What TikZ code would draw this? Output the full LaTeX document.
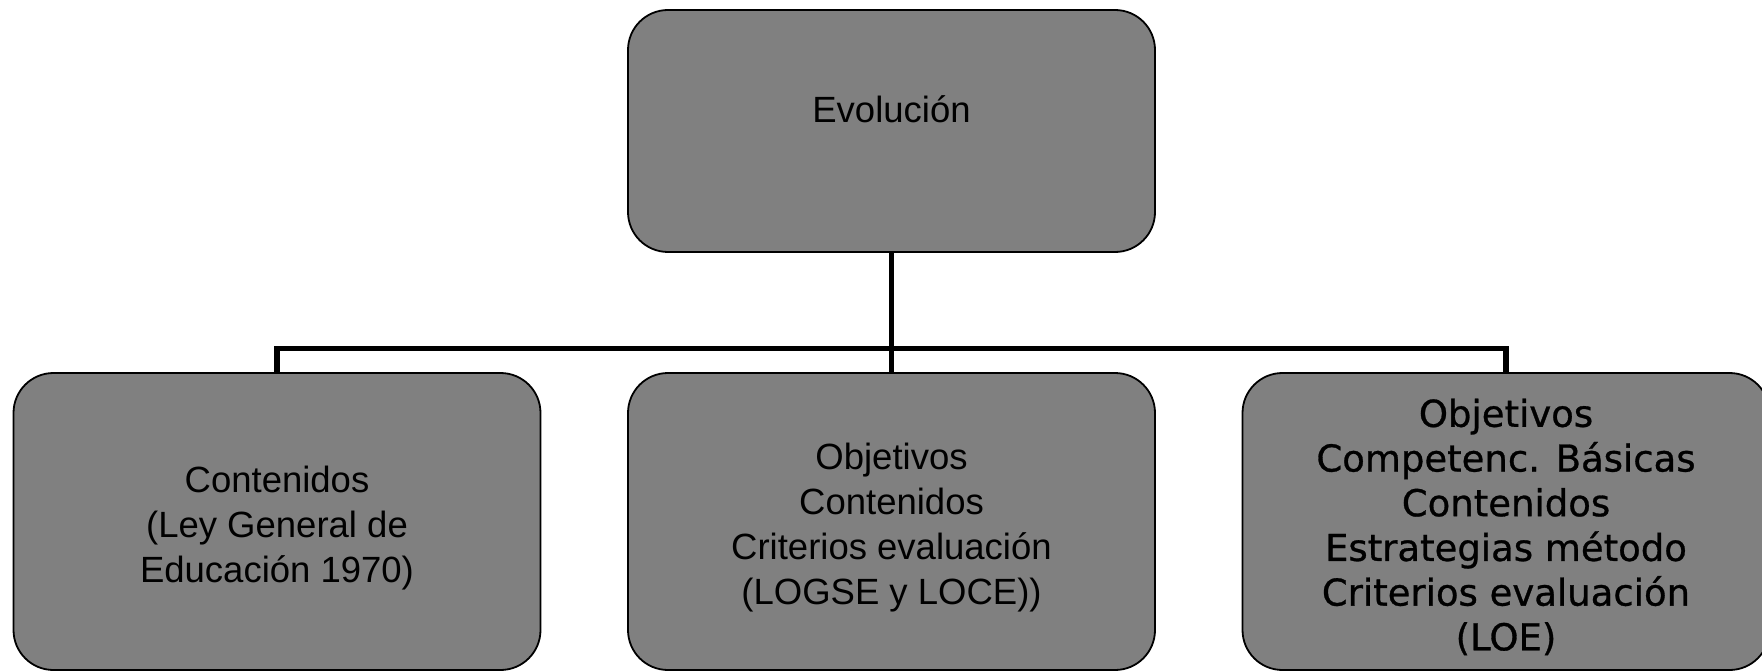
\documentclass[tikz,border=0pt]{standalone}
\usepackage{fontspec}
\setmainfont{Liberation Sans}
\newfontfamily\lbfont[FakeBold=0.8]{DejaVu Sans}
\usetikzlibrary{positioning}
\newcommand{\lowstrut}[1][39pt]{\rule{0pt}{#1}} % text sits a bit low

\begin{document}
\begin{tikzpicture}[x = 1pt, y = -1pt, % pixel units, y going down
                node distance = 614.5pt, % centre to centre of the lower boxes
                line width = 5.7pt % connector lines
            ]

            \tikzstyle{every node}=[draw = black, fill = gray, rectangle,
            rounded corners = 40pt, line width = 1.8pt, inner sep = 0pt,
            minimum width = 527pt, minimum height = 297pt, align = center,
            font = \fontsize{36.5}{45}\selectfont]

            \useasboundingbox (0,0) rectangle (1762,671);

            \node (2) at (891.5,521.5) {\lowstrut Objetivos\\Contenidos\\Criterios
                evaluación\\(LOGSE y LOCE))}; \node (1) [left of=2]
            {\lowstrut Contenidos\\(Ley General de\\Educación 1970)}; \node (3) [right
                of=2, font = \lbfont\fontsize{37}{44.7}\selectfont]
            {\lowstrut Objetivos\\Competenc. Básicas\\Contenidos\\Estrategias
                método\\Criterios evaluación\\(LOE)}; \node (0) [above of=2,
                node distance = 390.5pt, minimum height = 242pt]
            {\lowstrut[29pt]Evolución\\ \mbox{}}; \coordinate (h) at (891.5,348.5);

            \path (0) edge (2); \draw (1.north) |- (h) -| (3.north);
\end{tikzpicture}
\end{document}
